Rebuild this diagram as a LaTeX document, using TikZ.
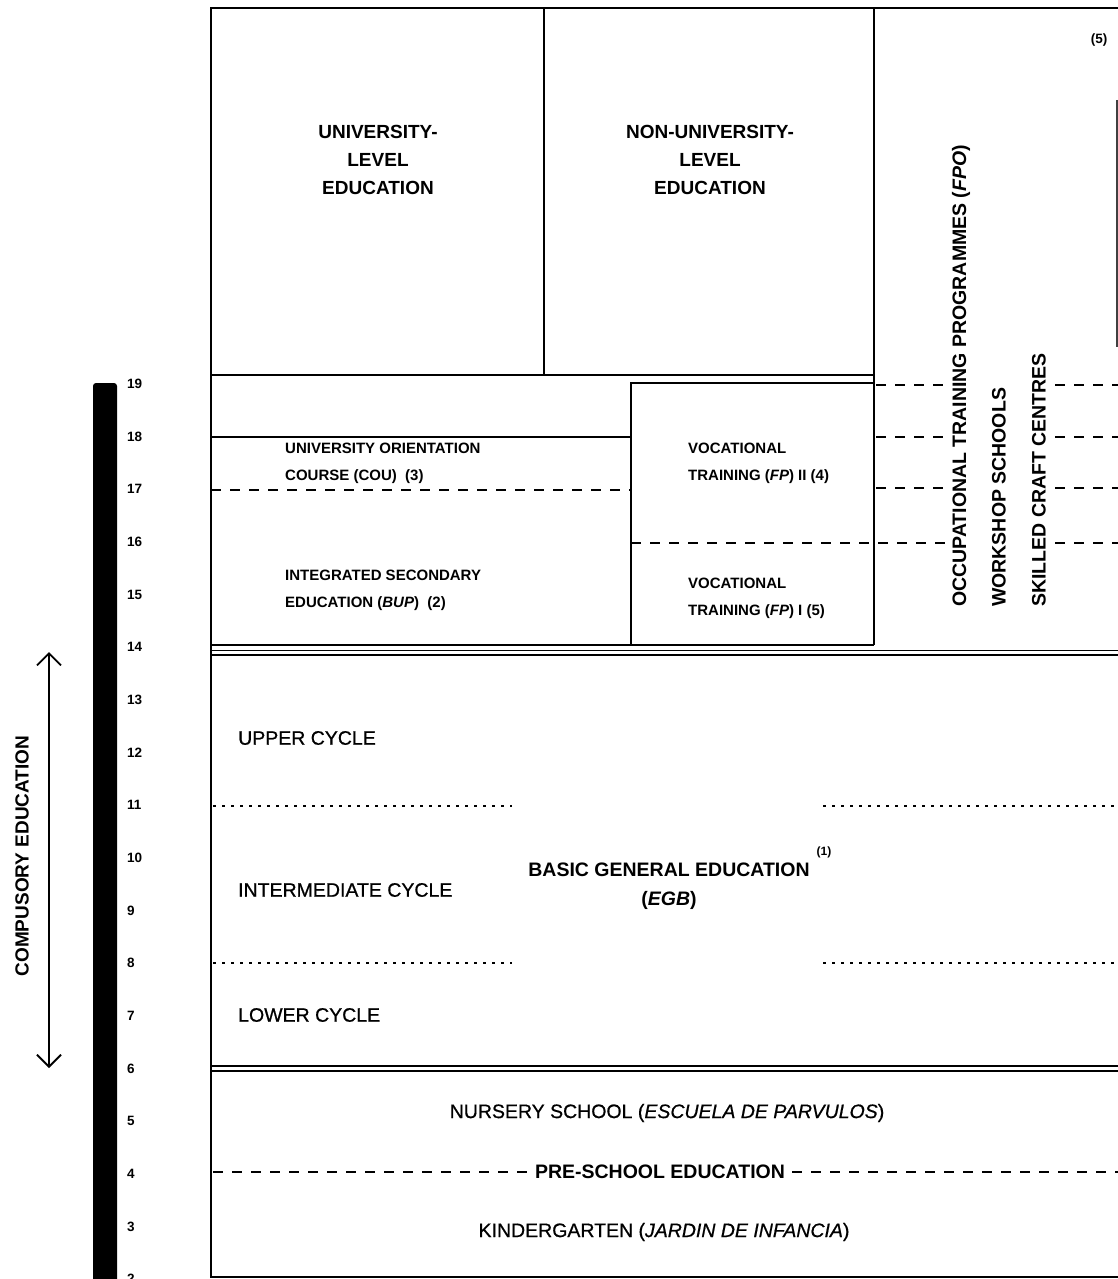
\documentclass[tikz,border=0pt]{standalone}
\usepackage{fontspec}
\setmainfont{Liberation Sans}
\newfontfamily\medfont[FakeBold=0.7]{Liberation Sans}
\usetikzlibrary{arrows.meta}
\begin{document}
\begin{tikzpicture}[x=1pt,y=-1pt,
  frame/.style={line width=1.8pt},
  dashln/.style={line width=1.8pt, dash pattern=on 10pt off 9pt},
  dotln/.style={line width=1.8pt, dash pattern=on 2.5pt off 6.5pt},
  head/.style={font=\fontsize{19}{28}\selectfont\bfseries, align=center, inner sep=0pt},
  smalltxt/.style={font=\fontsize{15}{27}\selectfont\bfseries, align=left, inner sep=0pt, anchor=west},
  cyc/.style={font=\medfont\fontsize{19.5}{24}\selectfont, inner sep=0pt},
  vert/.style={font=\fontsize{19.5}{24}\selectfont\bfseries, inner sep=0pt, rotate=90, anchor=west},
  age/.style={font=\fontsize{13.5}{16}\selectfont\bfseries, inner sep=0pt, anchor=west}]

\useasboundingbox (0,0) rectangle (1118,1279);

% ---- frame and boxes
\draw[frame] (1118,8) -- (211,8) -- (211,1277) -- (1118,1277);
\draw[frame] (544,8) -- (544,375);
\draw[frame] (874,8) -- (874,645);
\draw[frame] (211,375) -- (874,375);
\draw[frame] (211,437) -- (631,437);
\draw[frame] (631,645) -- (631,383) -- (874,383);
\draw[frame] (211,645) -- (874,645);
\draw[line width=1.5pt] (211,650.5) -- (1118,650.5);
\draw[line width=1.5pt] (211,655) -- (1118,655);
\draw[line width=1.5pt] (211,1066) -- (1118,1066);
\draw[line width=1.5pt] (211,1071) -- (1118,1071);
\draw[line width=1.2pt, black!75] (1117,100) -- (1117,347);

% ---- dashed lines
\draw[dashln] (211,490) -- (631,490);
\draw[dashln] (631,543) -- (946,543);
\foreach \yy in {385,437,488} { \draw[dashln] (876,\yy) -- (946,\yy); }
\foreach \yy in {385,437,488,543} { \draw[dashln] (1055,\yy) -- (1118,\yy); }
\draw[dotln] (213,806) -- (512,806);
\draw[dotln] (823,806) -- (1118,806);
\draw[dotln] (213,963) -- (512,963);
\draw[dotln] (823,963) -- (1118,963);
\draw[dashln] (213,1172) -- (527,1172);
\draw[dashln] (792,1172) -- (1118,1172);

% ---- upper texts
\node[head] (univ) at (378,160) {UNIVERSITY-\\LEVEL\\EDUCATION};
\node[head] (nonuniv) at (710,160) {NON-UNIVERSITY-\\LEVEL\\EDUCATION};
\node[font=\fontsize{13.5}{16}\selectfont\bfseries, inner sep=0pt] (n5) at (1099,40) {(5)};
\node[smalltxt] (cou) at (285,463.5) {UNIVERSITY ORIENTATION\\COURSE (COU)\ \ (3)};
\node[smalltxt] (bup) at (285,590) {INTEGRATED SECONDARY\\EDUCATION (\textit{BUP})\ \ (2)};
\node[smalltxt] (fp2) at (688,463.5) {VOCATIONAL\\TRAINING (\textit{FP}) II (4)};
\node[smalltxt] (fp1) at (688,598.5) {VOCATIONAL\\TRAINING (\textit{FP}) I (5)};
\node[vert] (fpo) at (961,607) {OCCUPATIONAL TRAINING PROGRAMMES (\textit{FPO})};
\node[vert] (work) at (999,607) {WORKSHOP SCHOOLS};
\node[vert] (craft) at (1039,607) {SKILLED CRAFT CENTRES};

% ---- EGB
\node[cyc, anchor=west] (upper) at (238,738) {UPPER CYCLE};
\node[cyc, anchor=west] (inter) at (238,890) {INTERMEDIATE CYCLE};
\node[cyc, anchor=west] (lower) at (238,1015) {LOWER CYCLE};
\node[font=\fontsize{19.5}{24}\selectfont\bfseries, inner sep=0pt] (egb) at (669,870) {BASIC GENERAL EDUCATION};
\node[font=\fontsize{12}{14}\selectfont\bfseries, inner sep=0pt] (sup1) at (824,852) {(1)};
\node[font=\fontsize{19.5}{24}\selectfont\bfseries, inner sep=0pt] (egbabbr) at (669,900) {(\textit{EGB})};

% ---- pre-school
\node[cyc] (nursery) at (667,1113) {NURSERY SCHOOL (\textit{ESCUELA DE PARVULOS})};
\node[font=\fontsize{19.5}{24}\selectfont\bfseries, inner sep=0pt] (pre) at (660,1172) {PRE-SCHOOL EDUCATION};
\node[cyc] (kinder) at (664,1232) {KINDERGARTEN (\textit{JARDIN DE INFANCIA})};

% ---- age scale
\fill (93,386) -- (93,1279) -- (117,1279) -- (117,386) to[out=90,in=0] (114,383) -- (96,383) to[out=180,in=90] (93,386);
\foreach \a in {2,...,19} {
  \pgfmathsetmacro{\yy}{384+(19-\a)*52.65}
  \node[age] (age\a) at (127,\yy) {\a};
}

% ---- compulsory arrow
\coordinate (ctop) at (49,652);
\coordinate (cbot) at (49,1068);
\draw[line width=1.8pt, {Straight Barb[length=12pt,width=24pt,line width=1.8pt]}-{Straight Barb[length=12pt,width=24pt,line width=1.8pt]}] (ctop) -- (cbot);
\node[font=\fontsize{19}{24}\selectfont\bfseries, inner sep=0pt, rotate=90] (comp) at (22,856) {COMPUSORY EDUCATION};

\end{tikzpicture}
\end{document}
